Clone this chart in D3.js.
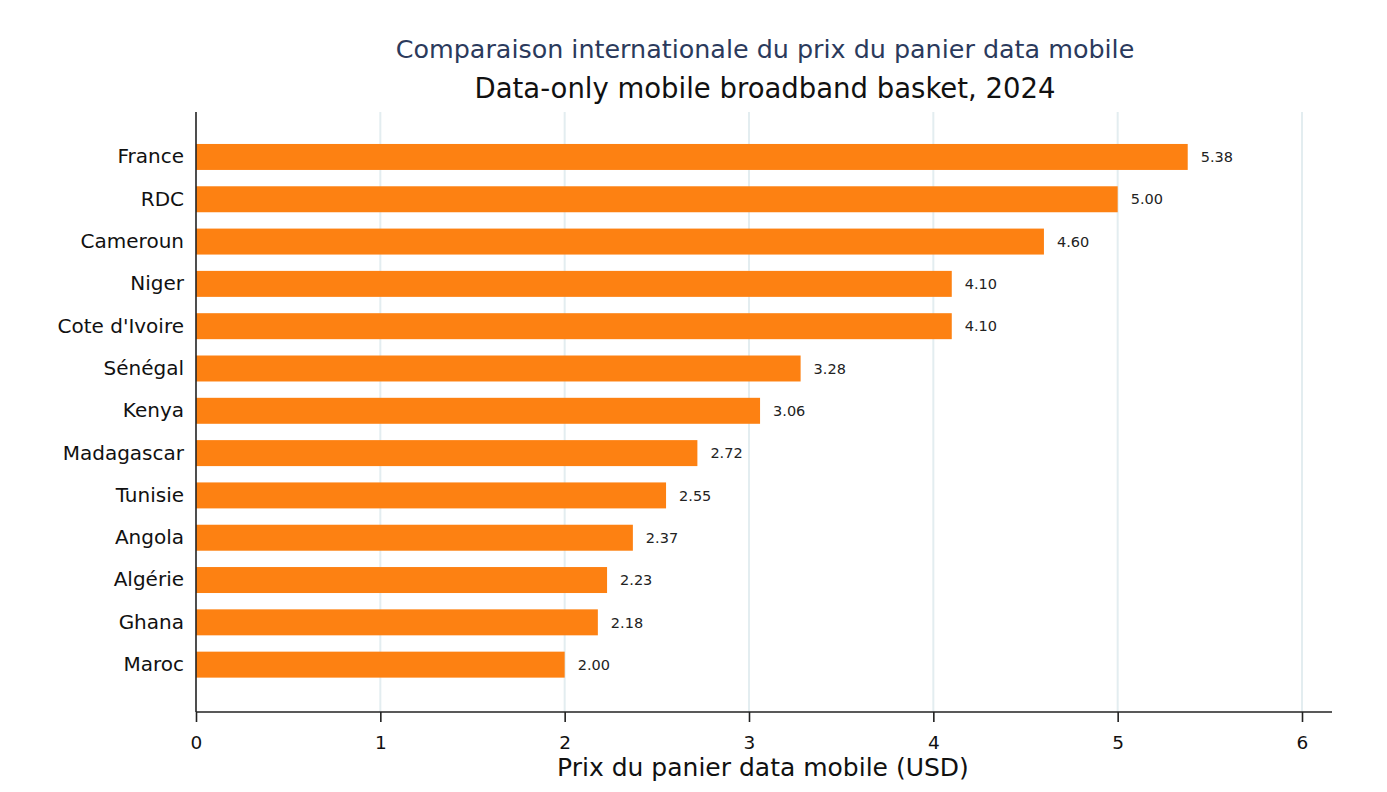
<!DOCTYPE html>
<html><head><meta charset="utf-8">
<script src="https://cdn.jsdelivr.net/npm/d3@7"></script>
<style>body{margin:0;background:#fff;} svg{display:block;font-family:"DejaVu Sans",sans-serif;}</style>
</head><body>
<svg id="c" width="1387" height="792"></svg>
<script>
const countries = ["France","RDC","Cameroun","Niger","Cote d'Ivoire","Sénégal","Kenya","Madagascar","Tunisie","Angola","Algérie","Ghana","Maroc"];
const prices = [5.38,5.00,4.60,4.10,4.10,3.28,3.06,2.72,2.55,2.37,2.23,2.18,2.00];
const xTicks = [0,1,2,3,4,5,6];
const title1 = "Comparaison internationale du prix du panier data mobile";
const title2 = "Data-only mobile broadband basket, 2024";
const xTitle = "Prix du panier data mobile (USD)";

const FONT = '"DejaVu Sans",sans-serif';
const svg = d3.select("#c");
const x = d3.scaleLinear().domain([0,6]).range([196,1302]);
const y = d3.scaleBand().domain(countries).range([135.8,685.8]).paddingInner(0.386).paddingOuter(0.193);
const plotTop = 112, plotBottom = 712;

// grid
svg.append("g").selectAll("line").data(xTicks.filter(d=>d>0)).join("line")
  .attr("x1",d=>x(d)).attr("x2",d=>x(d)).attr("y1",plotTop).attr("y2",plotBottom)
  .attr("stroke","#e3edf0").attr("stroke-width",2);

// bars
svg.append("g").selectAll("rect").data(countries).join("rect")
  .attr("x",x(0)).attr("y",d=>y(d)).attr("height",y.bandwidth())
  .attr("width",(d,i)=>x(prices[i])-x(0)).attr("fill","#fd8112");

// value labels
svg.append("g").selectAll("text").data(countries).join("text")
  .attr("x",(d,i)=>x(prices[i])+13).attr("y",d=>y(d)+y.bandwidth()/2)
  .attr("dy","0.36em").attr("font-size",14.5).attr("fill","#222")
  .text((d,i)=>prices[i].toFixed(2));

// x axis
const xAxis = d3.axisBottom(x).tickValues(xTicks).tickFormat(d3.format("d")).tickSize(10).tickPadding(14);
const gx = svg.append("g").attr("transform",`translate(0,${plotBottom})`).call(xAxis);
gx.select(".domain").attr("d",`M${x(0)},0H1332`).attr("stroke","#222").attr("stroke-width",1.6);
gx.selectAll(".tick line").attr("stroke","#222").attr("stroke-width",1.6);
gx.selectAll(".tick text").attr("font-size",18.5).attr("fill","#111").attr("font-family",FONT);

// y axis
const yAxis = d3.axisLeft(y).tickSize(0).tickPadding(12);
const gy = svg.append("g").attr("transform",`translate(${x(0)},0)`).call(yAxis);
gy.select(".domain").attr("d",`M0,${plotTop}V${plotBottom}`).attr("stroke","#222").attr("stroke-width",1.6);
gy.selectAll(".tick text").attr("font-size",20).attr("fill","#111").attr("font-family",FONT);

// titles
svg.append("text").attr("x",765).attr("y",58).attr("text-anchor","middle")
  .attr("font-size",25.4).attr("fill","#2b3a5c").text(title1);
svg.append("text").attr("x",765).attr("y",98).attr("text-anchor","middle")
  .attr("font-size",27.5).attr("fill","#111").text(title2);
svg.append("text").attr("x",763).attr("y",776).attr("text-anchor","middle")
  .attr("font-size",25).attr("fill","#111").text(xTitle);
</script>
</body></html>
